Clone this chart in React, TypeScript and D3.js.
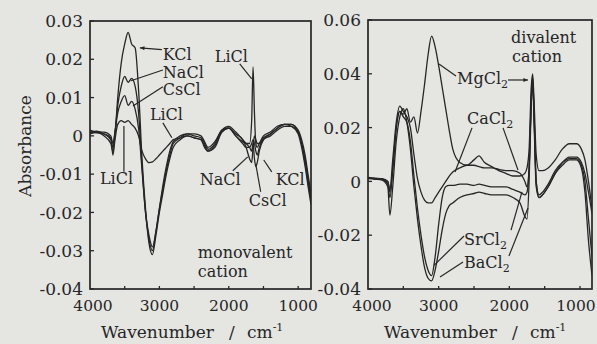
import React from 'react';
import * as d3 from 'd3';

const W = 597;
const H = 344;
const INK = '#262626';
const BG = '#e5e5e2';
const FONT = '"DejaVu Serif", serif';

// ---------- Left panel (monovalent) ----------
const leftWN = [4000, 3900, 3800, 3700, 3670, 3640, 3600, 3550, 3500, 3450,
  3400, 3350, 3300, 3250, 3200, 3150, 3100, 3050, 3000, 2950,
  2900, 2850, 2800, 2700, 2600, 2500, 2400, 2350, 2300, 2200,
  2100, 2000, 1900, 1800, 1750, 1700, 1670, 1650, 1630, 1610,
  1590, 1560, 1500, 1400, 1300, 1200, 1100, 1000, 950, 900,
  850, 815];
const KCl = [0.0005, 0.001, 0.0, -0.002, -0.004, 0.0, 0.010, 0.019, 0.024, 0.027,
  0.024, 0.023, 0.012, -0.006, -0.019, -0.028, -0.031, -0.026, -0.020, -0.015,
  -0.010, -0.006, -0.003, -0.001, 0.0, -0.0005, -0.001, -0.003, -0.004, -0.003,
  0.001, 0.002, 0.0, -0.002, -0.003, -0.003, -0.002, -0.001, -0.002, -0.004,
  -0.005, -0.003, -0.001, 0.0, 0.0015, 0.0025, 0.0025, 0.001, -0.002, -0.007,
  -0.013, -0.017];
const NaCl = [0.001, 0.0012, 0.0005, -0.001, -0.003, 0.001, 0.008, 0.013, 0.0155, 0.014,
  0.015, 0.013, 0.006, -0.008, -0.020, -0.027, -0.030, -0.025, -0.019, -0.014,
  -0.009, -0.005, -0.002, -0.0005, 0.0005, 0.0, -0.0005, -0.002, -0.0035, -0.002,
  0.0015, 0.002, 0.0005, -0.001, -0.003, -0.006, -0.007, -0.003, 0.0, -0.001,
  -0.002, -0.002, -0.0005, 0.0005, 0.002, 0.003, 0.0025, 0.0005, -0.003, -0.008,
  -0.014, -0.018];
const CsCl = [0.0015, 0.001, 0.001, 0.0, -0.002, 0.001, 0.006, 0.009, 0.0105, 0.008,
  0.009, 0.007, 0.002, -0.009, -0.020, -0.026, -0.029, -0.025, -0.019, -0.013,
  -0.008, -0.004, -0.0015, 0.0, 0.0005, 0.0005, 0.0, -0.0015, -0.003, -0.0015,
  0.0015, 0.0025, 0.001, -0.001, -0.002, -0.003, -0.004, -0.002, -0.006, -0.008,
  -0.007, -0.004, -0.001, 0.0005, 0.002, 0.003, 0.003, 0.001, -0.002, -0.006,
  -0.012, -0.016];
const LiCl = [0.001, 0.0008, 0.0005, -0.0005, -0.005, -0.001, 0.003, 0.004, 0.0035, 0.004,
  0.003, 0.002, 0.0, -0.004, -0.006, -0.007, -0.0068, -0.006, -0.005, -0.004,
  -0.003, -0.002, -0.001, -0.0005, 0.0, -0.0005, -0.001, -0.0025, -0.004, -0.0025,
  0.001, 0.002, 0.0, -0.0015, -0.002, -0.002, 0.004, 0.018, 0.006, -0.002,
  -0.003, -0.002, 0.0, 0.001, 0.0025, 0.003, 0.003, 0.0015, -0.001, -0.005,
  -0.011, -0.015];

// ---------- Right panel (divalent) ----------
const rightWN = [4000, 3900, 3800, 3720, 3690, 3650, 3600, 3550, 3500, 3450,
  3400, 3350, 3300, 3250, 3200, 3150, 3100, 3050, 3000, 2950,
  2900, 2850, 2800, 2700, 2600, 2500, 2430, 2350, 2250, 2150,
  2050, 1950, 1850, 1780, 1750, 1720, 1690, 1670, 1650, 1620,
  1580, 1530, 1450, 1350, 1250, 1150, 1050, 980, 930, 880,
  830];
const MgCl2 = [0.0012, 0.001, 0.0008, 0.0, -0.004, 0.005, 0.020, 0.026, 0.025, 0.027,
  0.022, 0.024, 0.018, 0.026, 0.036, 0.047, 0.054, 0.050, 0.043, 0.035,
  0.027, 0.019, 0.012, 0.007, 0.006, 0.008, 0.0095, 0.007, 0.0055, 0.004,
  0.003, 0.002, 0.002, 0.003, 0.005, 0.012, 0.035, 0.040, 0.030, 0.010,
  0.004, 0.004, 0.005, 0.008, 0.012, 0.014, 0.014, 0.012, 0.008, 0.0,
  -0.010];
const CaCl2 = [0.0015, 0.0012, 0.001, 0.0, -0.003, 0.008, 0.022, 0.028, 0.026, 0.024,
  0.020, 0.010, 0.001, -0.004, -0.007, -0.008, -0.008, -0.006, -0.004, -0.002,
  0.0, 0.002, 0.0035, 0.005, 0.006, 0.006, 0.0055, 0.005, 0.005, 0.0045,
  0.004, 0.004, 0.003, 0.0, -0.002, 0.005, 0.030, 0.038, 0.025, 0.0,
  -0.006, -0.005, -0.002, 0.003, 0.007, 0.009, 0.009, 0.007, 0.003, -0.004,
  -0.012];
const SrCl2 = [0.0012, 0.001, 0.0008, -0.001, -0.006, 0.004, 0.020, 0.026, 0.024, 0.022,
  0.015, 0.002, -0.010, -0.020, -0.028, -0.033, -0.035, -0.028, -0.016, -0.006,
  -0.002, -0.0015, -0.0015, -0.001, -0.001, -0.0015, -0.001, -0.0015, -0.002, -0.002,
  -0.002, -0.003, -0.004, -0.005, -0.004, 0.005, 0.030, 0.039, 0.025, 0.0,
  -0.005, -0.004, -0.001, 0.004, 0.007, 0.0085, 0.0085, 0.006, 0.0, -0.014,
  -0.028];
const BaCl2 = [0.001, 0.0008, 0.0005, -0.002, -0.0125, -0.002, 0.015, 0.024, 0.027, 0.022,
  0.012, -0.002, -0.014, -0.024, -0.032, -0.036, -0.037, -0.033, -0.026, -0.018,
  -0.012, -0.009, -0.008, -0.006, -0.005, -0.0045, -0.004, -0.0045, -0.005, -0.005,
  -0.005, -0.006, -0.008, -0.013, -0.014, 0.0, 0.028, 0.037, 0.022, -0.002,
  -0.006, -0.005, -0.002, 0.003, 0.006, 0.008, 0.008, 0.005, -0.004, -0.022,
  -0.035];

const leftYTicks = [0.03, 0.02, 0.01, 0, -0.01, -0.02, -0.03, -0.04];
const rightYTicks = [0.06, 0.04, 0.02, 0, -0.02, -0.04];
const xTickLabels = [4000, 3000, 2000, 1000];
const xTickMarks = [3500, 3000, 2500, 2000, 1500, 1000];

type Label = { text: string; sub?: string; w: number; v: number };
type Leader = { w1: number; v1: number; w2: number; v2: number; arrow?: boolean };

const leftLabels: Label[] = [
  { text: 'KCl', w: 2950, v: 0.0198 },
  { text: 'NaCl', w: 2950, v: 0.0152 },
  { text: 'CsCl', w: 2950, v: 0.0107 },
  { text: 'LiCl', w: 3137, v: 0.0042 },
  { text: 'LiCl', w: 2201, v: 0.0193 },
  { text: 'LiCl', w: 3856, v: -0.0125 },
  { text: 'NaCl', w: 2417, v: -0.0128 },
  { text: 'KCl', w: 1324, v: -0.0128 },
  { text: 'CsCl', w: 1712, v: -0.0183 },
  { text: 'monovalent', w: 2446, v: -0.0319 },
  { text: 'cation', w: 2446, v: -0.0368 },
];
const leftLeaders: Leader[] = [
  { w1: 2964, v1: 0.0225, w2: 3281, v2: 0.023, arrow: true },
  { w1: 2950, v1: 0.0172, w2: 3410, v2: 0.0144 },
  { w1: 2950, v1: 0.0128, w2: 3381, v2: 0.0078 },
  { w1: 2950, v1: 0.0034, w2: 2820, v2: -0.0005 },
  { w1: 1842, v1: 0.0188, w2: 1669, v2: 0.0149 },
  { w1: 3511, v1: -0.0094, w2: 3511, v2: 0.0026 },
  { w1: 1942, v1: -0.0091, w2: 1727, v2: -0.0055 },
  { w1: 1381, v1: -0.0094, w2: 1496, v2: -0.0063 },
  { w1: 1540, v1: -0.0146, w2: 1612, v2: -0.0073 },
];
const rightLabels: Label[] = [
  { text: 'divalent', w: 1976, v: 0.0514 },
  { text: 'cation', w: 1962, v: 0.0444 },
  { text: 'MgCl', sub: '2', w: 2740, v: 0.0362 },
  { text: 'CaCl', sub: '2', w: 2599, v: 0.0213 },
  { text: 'SrCl', sub: '2', w: 2641, v: -0.0236 },
  { text: 'BaCl', sub: '2', w: 2641, v: -0.0322 },
];
const rightLeaders: Leader[] = [
  { w1: 2755, v1: 0.0392, w2: 2995, v2: 0.0436 },
  { w1: 2019, v1: 0.0377, w2: 1736, v2: 0.0377, arrow: true },
  { w1: 2528, v1: 0.0199, w2: 2769, v2: 0.0035 },
  { w1: 2089, v1: 0.0199, w2: 1877, v2: 0.0042 },
  { w1: 2641, v1: -0.0203, w2: 3066, v2: -0.0312 },
  { w1: 1976, v1: -0.0181, w2: 1821, v2: -0.0039 },
  { w1: 2655, v1: -0.03, w2: 2981, v2: -0.0355 },
  { w1: 2005, v1: -0.0277, w2: 1736, v2: -0.0099 },
];

const fmt = (v: number) => (v === 0 ? '0' : v.toFixed(2));

type PanelProps = {
  left: number; right: number; top: number; bottom: number;
  xDomain: [number, number]; yDomain: [number, number];
  wn: number[]; series: number[][]; yTicks: number[];
  labels: Label[]; leaders: Leader[]; titleX: number; firstDx: number; lastDx: number;
};

function Panel(p: PanelProps) {
  const x = d3.scaleLinear().domain(p.xDomain).range([p.left, p.right]);
  const y = d3.scaleLinear().domain(p.yDomain).range([p.bottom, p.top]);
  const line = d3.line<number>()
    .x((_, i) => x(p.wn[i]))
    .y((d) => y(d))
    .curve(d3.curveMonotoneX);
  const n = xTickLabels.length;
  return (
    <g>
      <defs>
        <clipPath id={`clip${p.left}`}>
          <rect x={p.left} y={p.top} width={p.right - p.left} height={p.bottom - p.top} />
        </clipPath>
      </defs>
      <g clipPath={`url(#clip${p.left})`}>
        {p.series.map((s, i) => (
          <path key={i} d={line(s) || ''} fill="none" stroke={INK} strokeWidth={1.3} strokeLinejoin="round" />
        ))}
      </g>
      <rect x={p.left} y={p.top} width={p.right - p.left} height={p.bottom - p.top} fill="none" stroke={INK} strokeWidth={1.7} />
      {p.yTicks.map((t) => (
        <g key={t}>
          <line x1={p.left} x2={p.left + 4} y1={y(t)} y2={y(t)} stroke={INK} strokeWidth={1.3} />
          <text x={p.left - 7} y={y(t)} dy="0.36em" textAnchor="end" fontSize={17} fill={INK}>{fmt(t)}</text>
        </g>
      ))}
      {xTickMarks.map((t) => (
        <line key={t} x1={x(t)} x2={x(t)} y1={p.bottom} y2={p.bottom - 3} stroke={INK} strokeWidth={1.3} />
      ))}
      {xTickLabels.map((t, i) => (
        <text key={t} x={x(t) + (i === 0 ? p.firstDx : i === n - 1 ? p.lastDx : 0)} y={p.bottom + 22} textAnchor="middle" fontSize={15.5} fill={INK}>{t}</text>
      ))}
      {p.leaders.map((l, i) => {
        const xa = x(l.w1), ya = y(l.v1), xb = x(l.w2), yb = y(l.v2);
        const ang = Math.atan2(yb - ya, xb - xa);
        const ah = 5;
        return (
          <g key={i}>
            <line x1={xa} y1={ya} x2={xb} y2={yb} stroke={INK} strokeWidth={1.2} />
            {l.arrow && (
              <path
                d={`M${xb},${yb} L${xb - ah * Math.cos(ang - 0.4)},${yb - ah * Math.sin(ang - 0.4)} L${xb - ah * Math.cos(ang + 0.4)},${yb - ah * Math.sin(ang + 0.4)} Z`}
                fill={INK}
              />
            )}
          </g>
        );
      })}
      {p.labels.map((l, i) => (
        <text key={i} x={x(l.w)} y={y(l.v)} fontSize={16} fill={INK}>
          {l.text}
          {l.sub && <tspan fontSize={11} dy={4}>{l.sub}</tspan>}
        </text>
      ))}
      <text y={338} fontSize={17} fill={INK}>
        <tspan x={p.titleX}>Wavenumber</tspan>
        <tspan x={p.titleX + 128}>/</tspan>
        <tspan x={p.titleX + 146}>cm</tspan>
        <tspan fontSize={11} dy={-7}>-1</tspan>
      </text>
    </g>
  );
}

export default function App() {
  return (
    <svg width={W} height={H} style={{ position: 'absolute', left: 0, top: 0 }} fontFamily={FONT}>
      <rect x={0} y={0} width={W} height={H} fill={BG} />
      <Panel
        left={90} right={311} top={21} bottom={289}
        xDomain={[4000, 815]} yDomain={[-0.04, 0.03]}
        wn={leftWN} series={[KCl, NaCl, CsCl, LiCl]} yTicks={leftYTicks}
        labels={leftLabels} leaders={leftLeaders} titleX={101} firstDx={3} lastDx={0}
      />
      <Panel
        left={368} right={592} top={20} bottom={289}
        xDomain={[4000, 830]} yDomain={[-0.04, 0.06]}
        wn={rightWN} series={[MgCl2, CaCl2, SrCl2, BaCl2]} yTicks={rightYTicks}
        labels={rightLabels} leaders={rightLeaders} titleX={384} firstDx={4} lastDx={-4}
      />
      <text transform="translate(31,146) rotate(-90)" textAnchor="middle" fontSize={17} fill={INK}>Absorbance</text>
    </svg>
  );
}
